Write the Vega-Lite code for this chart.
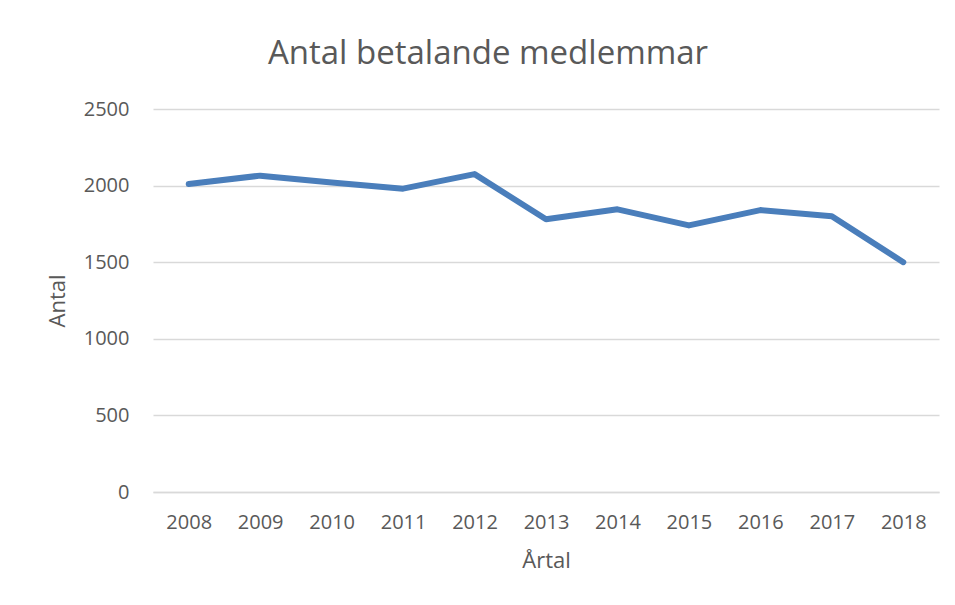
{
  "$schema": "https://vega.github.io/schema/vega-lite/v6.json",
  "width": 786,
  "height": 383,
  "autosize": {"type": "none"},
  "padding": {"left": 153, "top": 109, "right": 16, "bottom": 113},
  "background": "white",
  "title": {
    "text": "Antal betalande medlemmar",
    "font": "Open Sans",
    "fontSize": 33,
    "fontWeight": "normal",
    "color": "#595959",
    "anchor": "middle",
    "offset": -5,
    "dx": -58,
    "baseline": "bottom"
  },
  "config": {
    "view": {"stroke": null},
    "axis": {
      "labelFont": "Open Sans",
      "labelFontSize": 20,
      "labelColor": "#595959",
      "titleFont": "Open Sans",
      "titleFontSize": 22,
      "titleFontWeight": "normal",
      "titleColor": "#595959",
      "ticks": false
    }
  },
  "data": {
    "values": [
      {"year": "2008", "antal": 2010},
      {"year": "2009", "antal": 2065},
      {"year": "2010", "antal": 2020},
      {"year": "2011", "antal": 1980},
      {"year": "2012", "antal": 2075},
      {"year": "2013", "antal": 1780},
      {"year": "2014", "antal": 1845},
      {"year": "2015", "antal": 1740},
      {"year": "2016", "antal": 1840},
      {"year": "2017", "antal": 1800},
      {"year": "2018", "antal": 1500}
    ]
  },
  "mark": {"type": "line", "color": "#4a7ebb", "strokeWidth": 6, "strokeCap": "round", "strokeJoin": "round"},
  "encoding": {
    "x": {
      "field": "year",
      "type": "ordinal",
      "scale": {"type": "point", "padding": 0.5},
      "axis": {
        "title": "Årtal",
        "labelAngle": 0,
        "labelPadding": 20,
        "domain": true,
        "domainColor": "#d9d9d9",
        "domainWidth": 1.5,
        "titlePadding": 18
      }
    },
    "y": {
      "field": "antal",
      "type": "quantitative",
      "scale": {"domain": [0, 2500], "nice": false},
      "axis": {
        "title": "Antal",
        "format": "d",
        "values": [0, 500, 1000, 1500, 2000, 2500],
        "domain": false,
        "grid": true,
        "gridColor": "#d9d9d9",
        "gridWidth": 1.5,
        "labelPadding": 24,
        "titlePadding": 14
      }
    }
  }
}
